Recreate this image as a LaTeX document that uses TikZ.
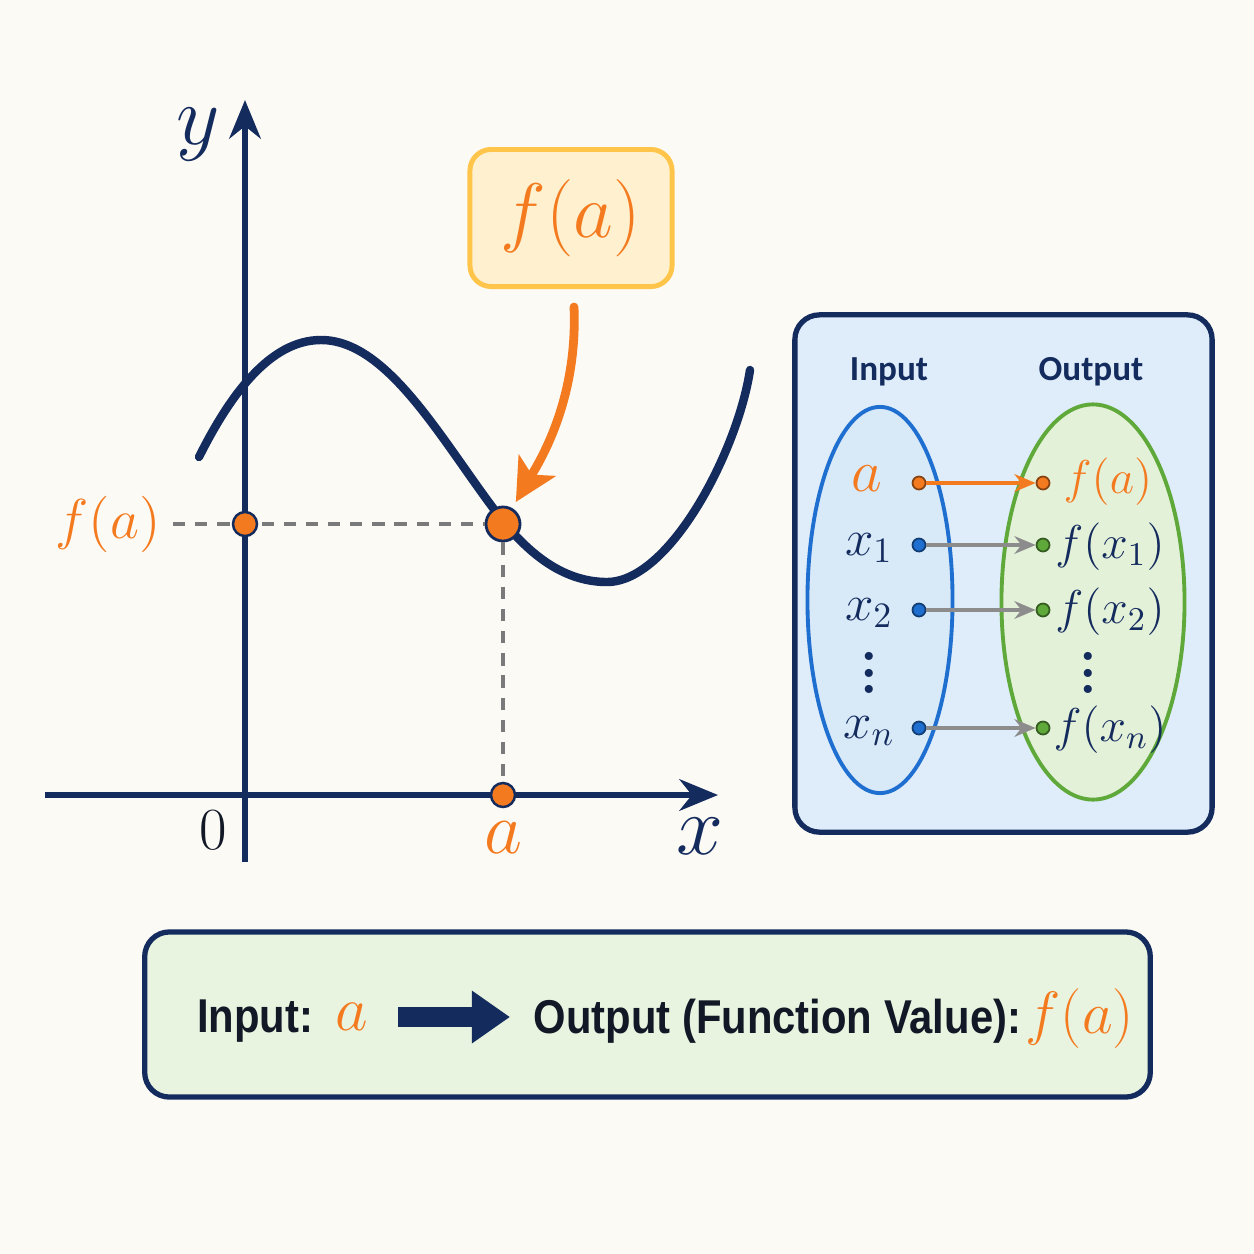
\RequirePackage{fix-cm}
\documentclass[tikz,border=0pt]{standalone}
\usepackage{amsmath}
\usepackage{fontspec}
\setsansfont{Liberation Sans}
\newfontfamily\headfont{Carlito}
\newfontfamily\boxfont[FakeStretch=0.88]{Liberation Sans}
\usetikzlibrary{positioning, shapes.geometric, arrows.meta}

\definecolor{navy}{HTML}{142B5E}
\definecolor{ink}{HTML}{121826}
\definecolor{accent}{HTML}{F47A1F}
\definecolor{guidegray}{HTML}{7A7A7A}
\definecolor{arrowgray}{HTML}{8C8C8C}
\definecolor{callfill}{HTML}{FFF1CF}
\definecolor{calldraw}{HTML}{FFC54A}
\definecolor{panelfill}{HTML}{DEEDF9}
\definecolor{inblue}{HTML}{1F6FD0}
\definecolor{infill}{HTML}{D8E9F8}
\definecolor{outgreen}{HTML}{5FA83A}
\definecolor{outfill}{HTML}{E4F1D9}
\definecolor{boxfill}{HTML}{E8F4DF}
\definecolor{bgcream}{HTML}{FCFAF5}

\newcommand{\mathsize}[1]{\fontsize{#1}{#1}\selectfont}
% three stacked dots without the top kern of \vdots
\newcommand{\stackdots}{\vbox{\baselineskip=4.6pt \lineskiplimit=0pt \hbox{.}\hbox{.}\hbox{.}}}

\begin{document}
\begin{tikzpicture}[
  x=0.01cm, y=-0.01cm,
  >=Stealth,
  axis/.style={draw=navy, line width=1.5pt, -{Stealth[length=11pt, width=9pt]}},
  curve/.style={draw=navy, line width=2.4pt, line cap=round},
  guide/.style={draw=guidegray, line width=0.9pt, dash pattern=on 3.5pt off 2.8pt},
  bigdot/.style={circle, draw=navy, line width=0.8pt, fill=accent, minimum size=0.34cm, inner sep=0pt},
  dot/.style={circle, draw=navy, line width=0.7pt, fill=accent, minimum size=0.24cm, inner sep=0pt},
  mapdot/.style={circle, draw=#1!55!black, line width=0.5pt, fill=#1, minimum size=0.13cm, inner sep=0pt},
  maparrow/.style={draw=arrowgray, line width=1pt, -{Stealth[length=6pt, width=5pt]}},
  maplabel/.style={text=navy, font=\mathsize{13.5}, inner sep=1pt},
  frame/.style={draw=navy, line width=1.5pt, rounded corners=7pt},
  callout/.style={draw=calldraw, fill=callfill, line width=1.4pt, rounded corners=6pt,
    minimum width=2.02cm, minimum height=1.37cm, text=accent, font=\mathsize{22}},
  headtext/.style={text=navy, font=\headfont\bfseries\fontsize{10}{12}\selectfont},
  boxtext/.style={text=ink, font=\boxfont\bfseries\fontsize{13.5}{16}\selectfont, inner sep=0pt}
]
\useasboundingbox (0,0) rectangle (1254,1254);
\fill[bgcream] (0,0) rectangle (1254,1254);

% Axes
\coordinate (yb) at (245,862);
\coordinate (yt) at (245,100);
\coordinate (xl) at (45,795);
\coordinate (xr) at (718,795);
\draw[axis] (yb) -- (yt);
\draw[axis] (xl) -- (xr);
\node[text=navy, font=\mathsize{24}] (ylab) at (198,135) {$y$};
\node[text=navy, font=\mathsize{24}] (xlab) at (700,836) {$x$};
\node[text=ink, font=\mathsize{17}] (zero) at (213,830) {$0$};
\node[text=accent, font=\mathsize{21}] (alab) at (503,838) {$a$};

% The function
\draw[curve] (199,457) .. controls (230,395) and (270,340) .. (321,340)
  .. controls (390,340) and (445,447) .. (503,521)
  .. controls (540,567) and (575,582) .. (607,582)
  .. controls (670,582) and (738,450) .. (750,370);

% Point (a, f(a))
\node[text=accent, font=\mathsize{16}] (fal) at (108,524) {$f(a)$};
\node[bigdot] (pa) at (503,524) {};
\node[dot] (pxa) at (503,795) {};
\draw[guide] (fal) -- (pa);
\draw[guide] (pa) -- (pxa);
\node[dot] (pya) at (245,524) {};

% Callout
\node[callout] (fbox) at (571,218) {$f(a)$};
\draw[draw=accent, line width=2.5pt, line cap=round, shorten >=2pt,
  -{Stealth[length=12pt, width=12pt, inset=3pt]}]
  ([shift={(3,18)}]fbox.south) .. controls +(4,95) and +(35,-60) .. (pa);

% Panel: mapping diagram
\node[frame, fill=panelfill, minimum width=4.17cm, minimum height=5.17cm] (panel) at (1003.5,573.5) {};
\node[headtext] (inhead) at (889,372) {Input};
\node[headtext] (outhead) at (1091,372) {Output};
\node[ellipse, draw=inblue, fill=infill, line width=1.1pt, minimum width=1.45cm, minimum height=3.86cm] (inset) at (880,600) {};
\node[ellipse, draw=outgreen, fill=outfill, line width=1.1pt, minimum width=1.83cm, minimum height=3.95cm] (outset) at (1093,602) {};

\node[mapdot=accent] (ia) at (919,483) {};
\node[mapdot=accent] (oa) at (1043,483) {};
\node[maplabel, text=accent, font=\mathsize{17}] (lia) at (867,479) {$a$};
\node[maplabel, text=accent] (loa) at (1108,482) {$f(a)$};
\draw[maparrow, draw=accent, line width=1.4pt] (ia) -- (oa);
\foreach \y/\s in {545/1, 610/2, 728/n} {
  \node[mapdot=inblue] (i\s) at (919,\y) {};
  \node[mapdot=outgreen] (o\s) at (1043,\y) {};
  \node[maplabel, font=\mathsize{14.5}] (li\s) at (869,\y+3) {$x_{\s}$};
  \node[maplabel] (lo\s) at (1110,\y+2) {$f(x_{\s})$};
  \draw[maparrow] (i\s) -- (o\s);
}
\node[maplabel, font=\fontsize{16}{16}\selectfont\bfseries] (vin) at (869,673) {\stackdots};
\node[maplabel, font=\fontsize{16}{16}\selectfont\bfseries] (vout) at (1088,673) {\stackdots};

% Summary box
\node[frame, fill=boxfill, minimum width=10.05cm, minimum height=1.65cm] (sumbox) at (647.5,1014.5) {};
\node[boxtext, anchor=base east] (intxt) at (314,1032) {Input:};
\node[text=accent, font=\mathsize{18}, anchor=base, inner sep=0pt] (inval) at (352,1030) {$a$};
\coordinate (bs) at (398,1017);
\coordinate (be) at (510,1017);
\draw[draw=navy, line width=0.2cm, -{Triangle[length=0.38cm, width=0.5cm]}] (bs) -- (be);
\node[boxtext, anchor=base west] (outtxt) at (533,1033) {Output (Function Value):};
\node[text=accent, font=\mathsize{17}, anchor=base west, inner sep=0pt] (outval) at (1025,1033) {$f(a)$};
\end{tikzpicture}
\end{document}
